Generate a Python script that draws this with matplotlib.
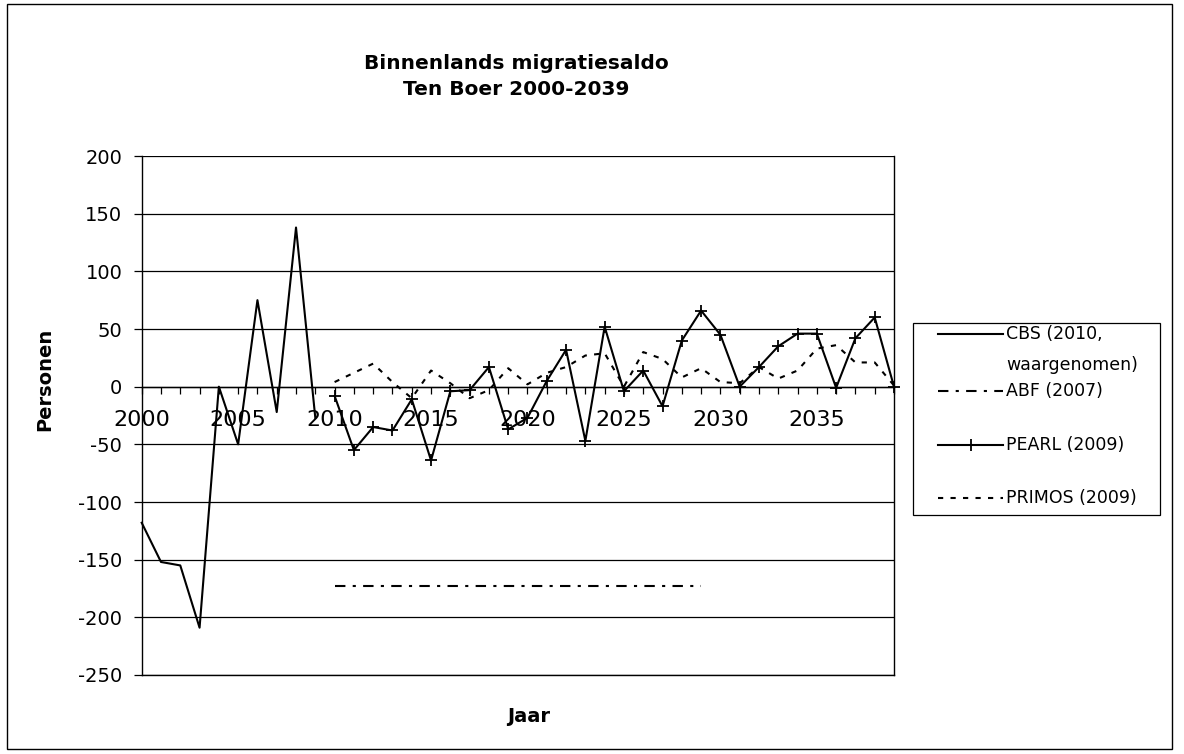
import numpy as np
import matplotlib.pyplot as plt
from matplotlib.lines import Line2D
from matplotlib.patches import Rectangle
from matplotlib.ticker import MultipleLocator

plt.rcParams["axes.unicode_minus"] = False

# Binnenlands migratiesaldo Ten Boer, observed + three forecasts
cbs_years = np.arange(2000, 2010)
cbs = [-118, -152, -155, -209, 0, -50, 75, -22, 138, -27]

abf_years = np.arange(2010, 2030)
abf = [-173] * 20

pearl_years = np.arange(2010, 2040)
pearl = [-8, -55, -35, -38, -11, -64, -4, -3, 17, -37,
         -27, 5, 32, -47, 52, -4, 14, -17, 40, 66,
         45, 0, 17, 35, 46, 46, -1, 42, 60, 0]

primos_years = np.arange(2010, 2040)
primos = [4, 12, 20, 4, -10, 14, 3, -10, -3, 16,
          2, 12, 17, 27, 29, 0, 30, 24, 8, 16,
          4, 3, 17, 7, 14, 33, 36, 21, 21, 1]

labels = ["CBS (2010,\nwaargenomen)", "ABF (2007)", "PEARL (2009)", "PRIMOS (2009)"]

ymin, ymax = -250, 200
W, H = 1184, 754


def fx(x):
    return x / W


def fy(y):
    return 1 - y / H


fig = plt.figure(figsize=(W / 100, H / 100), dpi=100)
ax = fig.add_axes([fx(141.7), fy(675), fx(894 - 141.7), (675 - 156) / H])

styles = [
    dict(color="black", lw=1.5),
    dict(color="black", lw=1.5, ls=(0, (5, 3.5, 1.5, 3.5))),
    dict(color="black", lw=1.5, marker="+", ms=8, mew=1.3),
    dict(color="black", lw=1.5, ls=(0, (2.5, 3.5))),
]

ax.plot(cbs_years, cbs, clip_on=False, **styles[0])
ax.plot(abf_years, abf, **styles[1])
ax.plot(pearl_years, pearl, clip_on=False, **styles[2])
ax.plot(primos_years, primos, clip_on=False, **styles[3])

ax.set_xlim(2000, 2039)
ax.set_ylim(ymin, ymax)
ax.yaxis.set_major_locator(MultipleLocator(50))
ax.xaxis.set_major_locator(MultipleLocator(5))
ax.xaxis.set_minor_locator(MultipleLocator(1))
ax.grid(axis="y", color="black", lw=0.9)
ax.axhline(ymin, color="black", lw=1.0, clip_on=False)
ax.set_axisbelow(True)

# category axis sits on the zero line
ax.spines["bottom"].set_position(("data", 0))
ax.spines["top"].set_visible(False)
for s in ["left", "right", "bottom"]:
    ax.spines[s].set_linewidth(1.0)
ax.tick_params(axis="x", which="both", direction="out", length=5, width=0.9,
               labelsize=16, pad=12)
ax.tick_params(axis="y", direction="out", length=6, width=0.9, labelsize=14, pad=8)

fig.text(fx(45), fy(379), "Personen", rotation=90, ha="center", va="center",
         fontsize=14, fontweight="bold")
fig.text(fx(529), fy(717), "Jaar", ha="center", va="center",
         fontsize=14, fontweight="bold")
fig.text(fx(516), fy(76.5), "Binnenlands migratiesaldo\nTen Boer 2000-2039",
         ha="center", va="center", fontsize=14.5, fontweight="bold",
         linespacing=1.5)

# legend box on the right, Excel style
fig.add_artist(Rectangle((fx(913), fy(515)), fx(247), 192 / H,
                         transform=fig.transFigure, fill=False,
                         edgecolor="black", lw=0.9))
rows = [334, 391, 445, 498]
for lab, st, y in zip(labels, styles, rows):
    st = dict(st)
    marker = st.pop("marker", None)
    st.pop("ms", None)
    st.pop("mew", None)
    fig.add_artist(Line2D([fx(938), fx(1003)], [fy(y), fy(y)],
                          transform=fig.transFigure, **st))
    if marker:
        fig.add_artist(Line2D([fx(970.5)], [fy(y)], transform=fig.transFigure,
                              color="black", marker=marker, ms=8, mew=1.3))
    fig.text(fx(1006), fy(y - 9), lab, ha="left", va="top", fontsize=12.5,
             linespacing=1.9)

# outer chart border
fig.add_artist(Rectangle((fx(7), fy(749)), fx(1165), 745 / H,
                         transform=fig.transFigure, fill=False,
                         edgecolor="black", lw=1.0))

fig.savefig("out.png", dpi=100)
